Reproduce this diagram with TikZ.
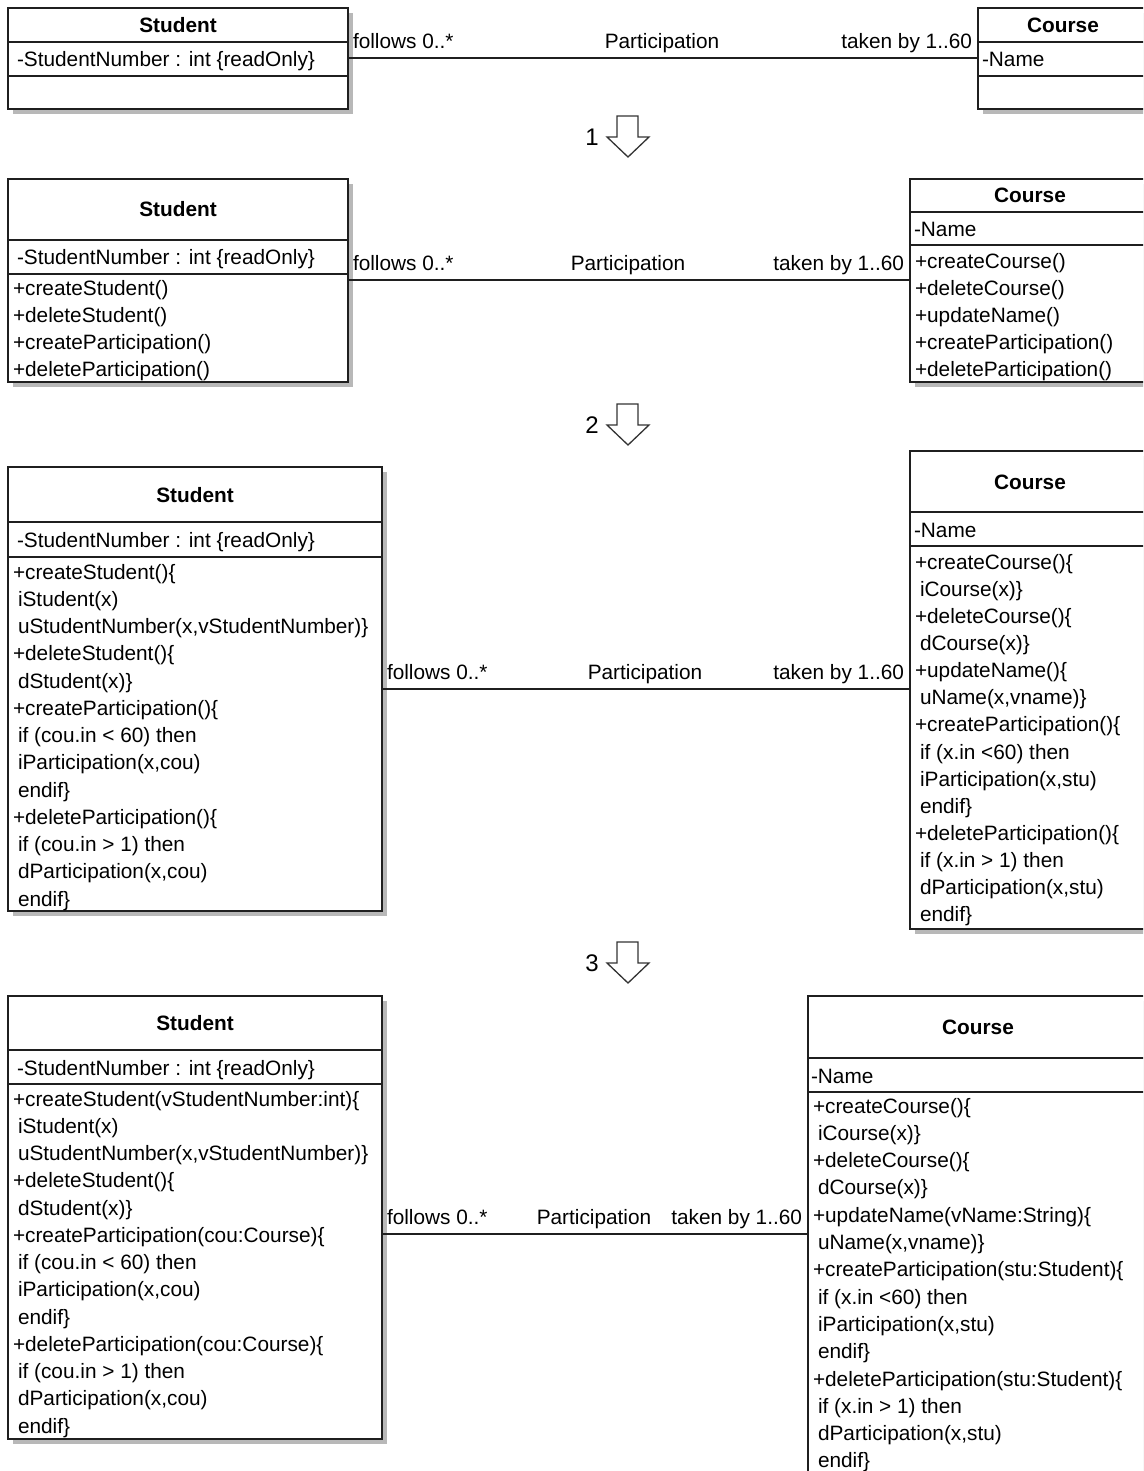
\documentclass[tikz,border=0pt]{standalone}
\usepackage{fontspec}
\setmainfont{Liberation Sans}
\newcommand\ind{\hspace*{5pt}}
% class box: shadow, framed node and the two compartment dividers
\newcommand\classbox[7]{%
  \fill[boxshadow] (#2+5,#3+5) rectangle (#4+5,#5+5);
  \node[classframe, minimum width=#4pt-#2pt, minimum height=#5pt-#3pt] (#1) at (#2,#3) {};
  \draw[divider] (#2,#6) -- (#4,#6);
  \draw[divider] (#2,#7) -- (#4,#7);
}
% one text line per entry, evenly spaced baselines
\newcommand\classlines[5]{%
  \foreach \entry [count=\k] in {#5} {
    \node[txt] (#1-\k) at (#2, {#3+(\k-1)*#4}) {\entry};
  }
}
% hollow down arrow with its step number
\newcommand\stepdown[3]{%
  \begin{scope}[shift={(0,#2)}]
    \draw[steparrow] (617,116) -- (638,116) -- (638,137) -- (649,137) -- (628,157) -- (607,137) -- (617,137) -- cycle;
    \node[stepnum] (#1) at (592,137) {#3};
  \end{scope}
}
\begin{document}
\begin{tikzpicture}[x=1pt,y=-1pt,
  txt/.style={anchor=base west, inner sep=0pt, outer sep=0pt, yshift=-1.5pt, font=\fontsize{20.8}{25}\selectfont},
  lbl/.style={txt, anchor=base},
  head/.style={anchor=base, inner sep=0pt, font=\fontsize{20.8}{25}\selectfont\bfseries},
  classframe/.style={draw=black!88, line width=1.6pt, fill=white, inner sep=0pt, outer sep=0pt, anchor=north west},
  divider/.style={draw=black!88, line width=1.6pt},
  boxshadow/.style={fill=black!28},
  assoc/.style={draw=black!88, line width=1.6pt},
  stepnum/.style={inner sep=0pt, font=\fontsize{24}{26}\selectfont},
  steparrow/.style={draw=black!80, line width=1.3pt, fill=white, line join=miter}
]
\useasboundingbox (0,0) rectangle (1143,1471);
\clip (0,0) rectangle (1143,1471);

% ---------- stage 0 ----------
\classbox{s1}{8}{8}{348}{109}{42}{76}
\node[head] (s1h) at (178,32.5) {Student};
\node[txt] (s1a) at (17,65) {-StudentNumber : int \{readOnly\}};
\classbox{c1}{978}{8}{1148}{109}{42}{76}
\node[head] (c1h) at (1063,32.5) {Course};
\node[txt] (c1a) at (982,65) {-Name};
\coordinate (r1) at (0,58);
\draw[assoc] (s1.east |- r1) -- (c1.west |- r1);
\node[txt] (s1role) at (353,47) {follows 0..*};
\node[lbl] (p1) at (662,47) {Participation};
\node[txt, anchor=base east] (c1role) at (972,47) {taken by 1..60};

\stepdown{n1}{0}{1}

% ---------- stage 1 ----------
\classbox{s2}{8}{179}{348}{382}{240}{274}
\node[head] (s2h) at (178,217) {Student};
\node[txt] (s2a) at (17,263.5) {-StudentNumber : int \{readOnly\}};
\classlines{s2m}{13}{294}{27}{{+createStudent()},{+deleteStudent()},{+createParticipation()},{+deleteParticipation()}}
\classbox{c2}{910}{179}{1150}{382}{212}{245}
\node[head] (c2h) at (1030,203) {Course};
\node[txt] (c2a) at (914,235) {-Name};
\classlines{c2m}{915}{267}{27}{{+createCourse()},{+deleteCourse()},{+updateName()},{+createParticipation()},{+deleteParticipation()}}
\coordinate (r2) at (0,280);
\draw[assoc] (s2.east |- r2) -- (c2.west |- r2);
\node[txt] (s2role) at (353,268.5) {follows 0..*};
\node[lbl] (p2) at (628,268.5) {Participation};
\node[txt, anchor=base east] (c2role) at (904,268.5) {taken by 1..60};

\stepdown{n2}{288}{2}

% ---------- stage 2 ----------
\classbox{s3}{8}{467}{382}{911}{522}{557}
\node[head] (s3h) at (195,502) {Student};
\node[txt] (s3a) at (17,546) {-StudentNumber : int \{readOnly\}};
\classlines{s3m}{13}{577.5}{27.25}{%
  {+createStudent()\{},{\ind iStudent(x)},{\ind uStudentNumber(x,vStudentNumber)\}},%
  {+deleteStudent()\{},{\ind dStudent(x)\}},%
  {+createParticipation()\{},{\ind if (cou.in < 60) then},{\ind iParticipation(x,cou)},{\ind endif\}},%
  {+deleteParticipation()\{},{\ind if (cou.in > 1) then},{\ind dParticipation(x,cou)},{\ind endif\}}}
\classbox{c3}{910}{451}{1150}{929}{512}{546}
\node[head] (c3h) at (1030,489) {Course};
\node[txt] (c3a) at (914,535.5) {-Name};
\classlines{c3m}{915}{567.5}{27.15}{%
  {+createCourse()\{},{\ind iCourse(x)\}},%
  {+deleteCourse()\{},{\ind dCourse(x)\}},%
  {+updateName()\{},{\ind uName(x,vname)\}},%
  {+createParticipation()\{},{\ind if (x.in <60) then},{\ind iParticipation(x,stu)},{\ind endif\}},%
  {+deleteParticipation()\{},{\ind if (x.in > 1) then},{\ind dParticipation(x,stu)},{\ind endif\}}}
\coordinate (r3) at (0,689);
\draw[assoc] (s3.east |- r3) -- (c3.west |- r3);
\node[txt] (s3role) at (387,677.5) {follows 0..*};
\node[lbl] (p3) at (645,677.5) {Participation};
\node[txt, anchor=base east] (c3role) at (904,677.5) {taken by 1..60};

\stepdown{n3}{826}{3}

% ---------- stage 3 ----------
\classbox{s4}{8}{996}{382}{1439}{1050}{1084}
\node[head] (s4h) at (195,1030.5) {Student};
\node[txt] (s4a) at (17,1073.5) {-StudentNumber : int \{readOnly\}};
\classlines{s4m}{13}{1104.5}{27.25}{%
  {+createStudent(vStudentNumber:int)\{},{\ind iStudent(x)},{\ind uStudentNumber(x,vStudentNumber)\}},%
  {+deleteStudent()\{},{\ind dStudent(x)\}},%
  {+createParticipation(cou:Course)\{},{\ind if (cou.in < 60) then},{\ind iParticipation(x,cou)},{\ind endif\}},%
  {+deleteParticipation(cou:Course)\{},{\ind if (cou.in > 1) then},{\ind dParticipation(x,cou)},{\ind endif\}}}
\classbox{c4}{808}{996}{1148}{1500}{1058}{1092}
\node[head] (c4h) at (978,1034.5) {Course};
\node[txt] (c4a) at (811,1081.5) {-Name};
\classlines{c4m}{813}{1111.5}{27.3}{%
  {+createCourse()\{},{\ind iCourse(x)\}},%
  {+deleteCourse()\{},{\ind dCourse(x)\}},%
  {+updateName(vName:String)\{},{\ind uName(x,vname)\}},%
  {+createParticipation(stu:Student)\{},{\ind if (x.in <60) then},{\ind iParticipation(x,stu)},{\ind endif\}},%
  {+deleteParticipation(stu:Student)\{},{\ind if (x.in > 1) then},{\ind dParticipation(x,stu)},{\ind endif\}}}
\coordinate (r4) at (0,1234);
\draw[assoc] (s4.east |- r4) -- (c4.west |- r4);
\node[txt] (s4role) at (387,1222.5) {follows 0..*};
\node[lbl] (p4) at (594,1222.5) {Participation};
\node[txt, anchor=base east] (c4role) at (802,1222.5) {taken by 1..60};
\end{tikzpicture}
\end{document}
